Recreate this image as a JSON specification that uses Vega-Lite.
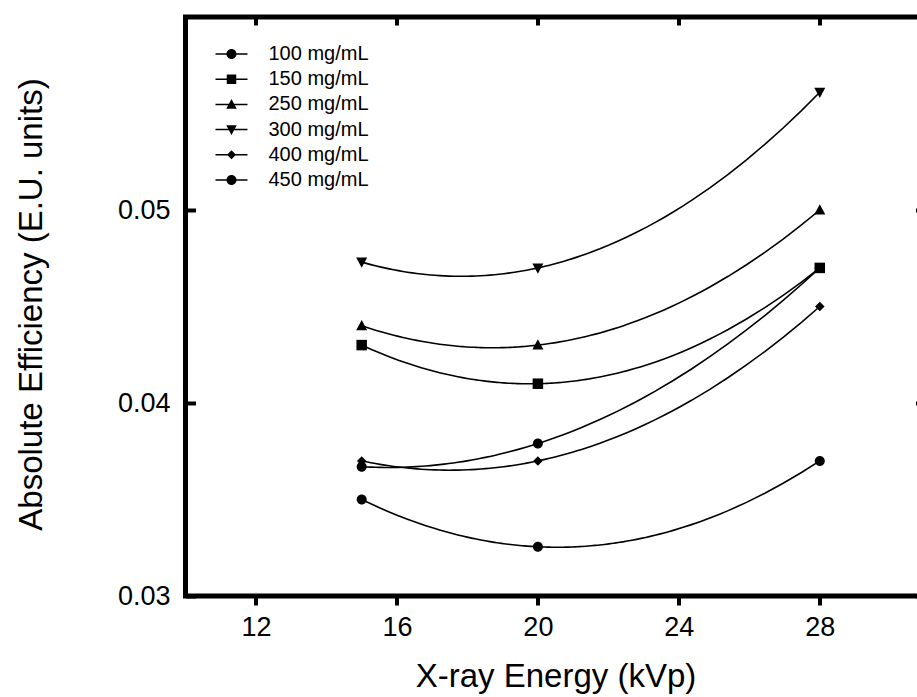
{
  "$schema": "https://vega.github.io/schema/vega-lite/v6.json",
  "autosize": {"type": "none"},
  "padding": {"left": 185.5, "top": 17, "right": 0, "bottom": 101},
  "width": 740,
  "height": 579,
  "background": "white",
  "config": {
    "font": "Liberation Sans",
    "view": {"stroke": "black", "strokeWidth": 5},
    "axis": {
      "domain": false,
      "grid": false,
      "tickColor": "black",
      "tickWidth": 4,
      "labelColor": "black",
      "titleColor": "black",
      "labelFont": "Liberation Sans",
      "titleFont": "Liberation Sans",
      "titleFontWeight": "normal"
    }
  },
  "data": {
    "values": [
      {"conc": "100 mg/mL", "kvp": 15, "eff": 0.0350},
      {"conc": "100 mg/mL", "kvp": 20, "eff": 0.03255},
      {"conc": "100 mg/mL", "kvp": 28, "eff": 0.0370},
      {"conc": "150 mg/mL", "kvp": 15, "eff": 0.0430},
      {"conc": "150 mg/mL", "kvp": 20, "eff": 0.0410},
      {"conc": "150 mg/mL", "kvp": 28, "eff": 0.0470},
      {"conc": "250 mg/mL", "kvp": 15, "eff": 0.0440},
      {"conc": "250 mg/mL", "kvp": 20, "eff": 0.0430},
      {"conc": "250 mg/mL", "kvp": 28, "eff": 0.0500},
      {"conc": "300 mg/mL", "kvp": 15, "eff": 0.0473},
      {"conc": "300 mg/mL", "kvp": 20, "eff": 0.0470},
      {"conc": "300 mg/mL", "kvp": 28, "eff": 0.0561},
      {"conc": "400 mg/mL", "kvp": 15, "eff": 0.0370},
      {"conc": "400 mg/mL", "kvp": 20, "eff": 0.0370},
      {"conc": "400 mg/mL", "kvp": 28, "eff": 0.0450},
      {"conc": "450 mg/mL", "kvp": 15, "eff": 0.0367},
      {"conc": "450 mg/mL", "kvp": 20, "eff": 0.0379},
      {"conc": "450 mg/mL", "kvp": 28, "eff": 0.0470}
    ]
  },
  "layer": [
    {
      "transform": [
        {"regression": "eff", "on": "kvp", "groupby": ["conc"], "method": "poly", "order": 2}
      ],
      "mark": {"type": "line", "color": "black", "strokeWidth": 1.6},
      "encoding": {
        "x": {
          "field": "kvp", "type": "quantitative",
          "scale": {"domain": [10, 31], "nice": false, "zero": false},
          "axis": {
            "orient": "bottom", "values": [12, 16, 20, 24, 28],
            "title": "X-ray Energy (kVp)", "labelFontSize": 27, "titleFontSize": 33,
            "tickSize": 9, "labelPadding": 9, "titlePadding": 20
          }
        },
        "y": {
          "field": "eff", "type": "quantitative",
          "scale": {"domain": [0.03, 0.06], "nice": false, "zero": false},
          "axis": {
            "orient": "left", "values": [0.03, 0.04, 0.05], "format": ".2f",
            "title": "Absolute Efficiency (E.U. units)", "labelFontSize": 27, "titleFontSize": 33,
            "tickSize": -10, "labelPadding": 25.5, "titlePadding": 69, "titleY": 287
          }
        },
        "detail": {"field": "conc", "type": "nominal"}
      }
    },
    {
      "mark": {"type": "point", "filled": true, "color": "black", "size": 100, "opacity": 1, "strokeWidth": 0},
      "encoding": {
        "x": {
          "field": "kvp", "type": "quantitative",
          "scale": {"domain": [10, 31], "nice": false, "zero": false},
          "axis": {"orient": "top", "values": [12, 16, 20, 24, 28], "labels": false, "title": null, "tickSize": -8}
        },
        "y": {
          "field": "eff", "type": "quantitative",
          "scale": {"domain": [0.03, 0.06], "nice": false, "zero": false},
          "axis": {"orient": "right", "values": [0.03, 0.04, 0.05], "labels": false, "title": null, "tickSize": -10}
        },
        "shape": {
          "field": "conc", "type": "nominal",
          "scale": {
            "domain": ["100 mg/mL", "150 mg/mL", "250 mg/mL", "300 mg/mL", "400 mg/mL", "450 mg/mL"],
            "range": [
              "M-1,0A1,1,0,1,1,1,0A1,1,0,1,1,-1,0Z",
              "M-1.05,-1.05H1.05V1.05H-1.05Z",
              "M0,-1.15L1.1,0.9L-1.1,0.9Z",
              "M0,1.15L-1.1,-0.9L1.1,-0.9Z",
              "M0,-0.95L0.95,0L0,0.95L-0.95,0Z",
              "M-1,0A1,1,0,1,1,1,0A1,1,0,1,1,-1,0Z"
            ]
          },
          "legend": null
        }
      }
    },
    {
      "mark": {"type": "point", "filled": true, "color": "black", "size": 100, "opacity": 0, "strokeWidth": 0},
      "encoding": {
        "x": {
          "field": "kvp", "type": "quantitative",
          "scale": {"domain": [10, 31], "nice": false, "zero": false},
          "axis": null
        },
        "y": {
          "field": "eff", "type": "quantitative",
          "scale": {"domain": [0.03, 0.06], "nice": false, "zero": false},
          "axis": null
        },
        "shape": {
          "field": "conc", "type": "nominal",
          "scale": {
            "domain": ["100 mg/mL", "150 mg/mL", "250 mg/mL", "300 mg/mL", "400 mg/mL", "450 mg/mL"],
            "range": [
              "M-1,0A1,1,0,1,1,1,0A1,1,0,1,1,-1,0Z M-3.2,-0.15H3.2V0.15H-3.2Z",
              "M-0.95,-0.95H0.95V0.95H-0.95Z M-3.2,-0.15H3.2V0.15H-3.2Z",
              "M0,-1.1L1.05,0.85L-1.05,0.85Z M-3.2,-0.15H3.2V0.15H-3.2Z",
              "M0,1.1L-1.05,-0.85L1.05,-0.85Z M-3.2,-0.15H3.2V0.15H-3.2Z",
              "M0,-0.9L0.9,0L0,0.9L-0.9,0Z M-3.2,-0.15H3.2V0.15H-3.2Z",
              "M-1,0A1,1,0,1,1,1,0A1,1,0,1,1,-1,0Z M-3.2,-0.15H3.2V0.15H-3.2Z"
            ]
          },
          "legend": {
            "orient": "none", "legendX": 36, "legendY": 27, "title": null,
            "padding": 0, "labelFontSize": 20, "labelFont": "Liberation Sans", "labelColor": "black",
            "symbolSize": 100, "rowPadding": 5.2, "labelOffset": 27,
            "symbolFillColor": "black", "symbolOpacity": 1
          }
        }
      }
    }
  ],
  "resolve": {
    "scale": {"x": "independent", "y": "independent", "shape": "independent"},
    "axis": {"x": "independent", "y": "independent"}
  }
}
